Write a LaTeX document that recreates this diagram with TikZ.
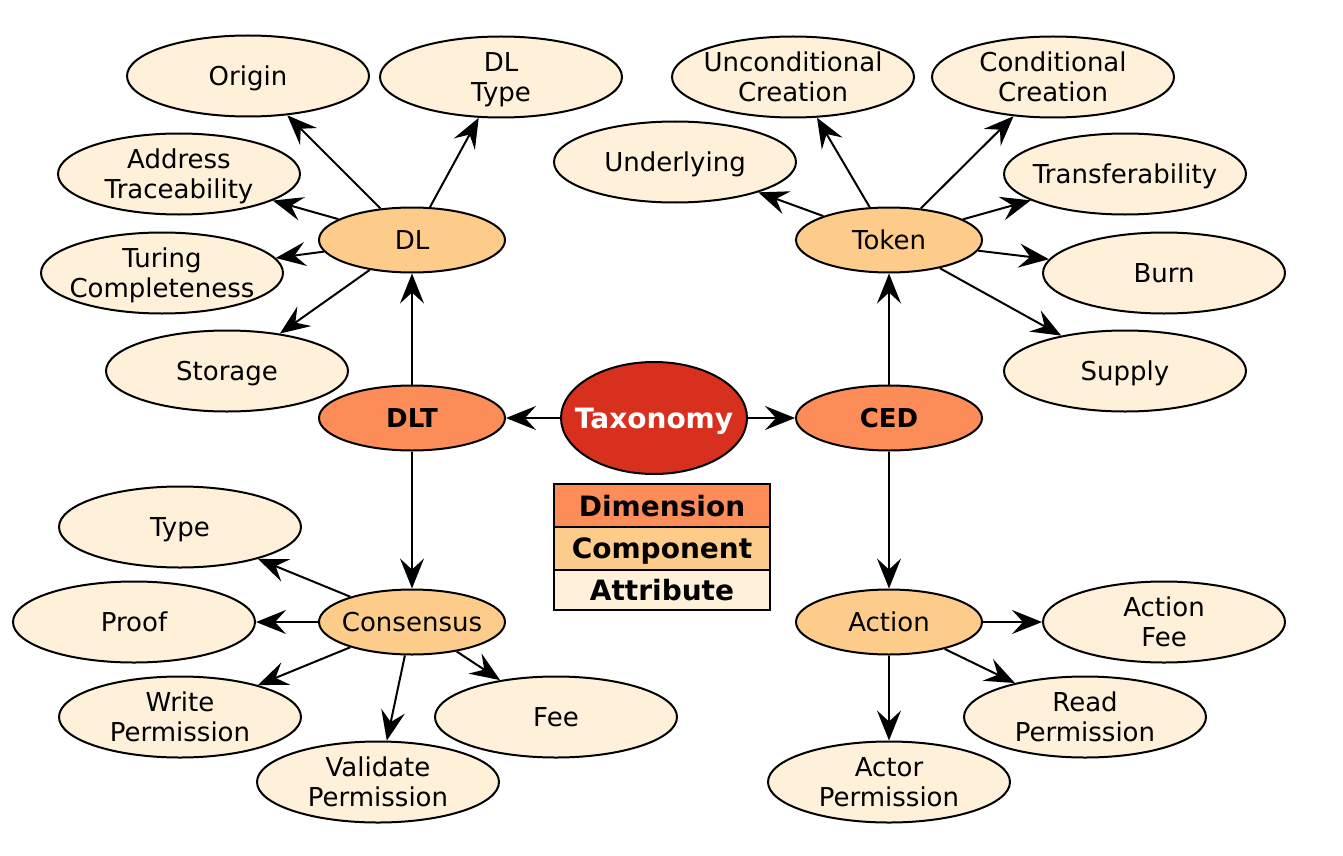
\documentclass[tikz,border=0pt]{standalone}
\usepackage{fontspec}
\setmainfont{DejaVu Sans}
\usetikzlibrary{shapes.geometric,arrows.meta}
\definecolor{rootc}{HTML}{D7301F}
\definecolor{dimc}{HTML}{FC8D59}
\definecolor{compc}{HTML}{FDCC8A}
\definecolor{attrc}{HTML}{FEF0D9}
\begin{document}
\begin{tikzpicture}[x=1pt,y=-1pt,
  base/.style={ellipse, draw=black, line width=2pt, inner ysep=0pt, inner xsep=-45pt, text depth=0pt, align=center, font=\fontsize{26}{30}\selectfont},
  attr/.style={base, fill=attrc, minimum width=242pt, minimum height=81pt},
  comp/.style={base, fill=compc, minimum width=186pt, minimum height=65pt},
  dimn/.style={base, fill=dimc, minimum width=186pt, minimum height=65pt, font=\fontsize{26}{30}\selectfont\bfseries},
  root/.style={base, fill=rootc, minimum width=186pt, minimum height=112pt, text=white, font=\fontsize{28}{32}\selectfont\bfseries},
  edge/.style={line width=2pt, -{Stealth[length=30pt,width=24pt,inset=11pt]}},
  legend/.style={rectangle, draw=black, line width=2pt, minimum width=216pt, inner sep=0pt, text depth=0pt, font=\fontsize{28}{32}\selectfont\bfseries}
]
\useasboundingbox (0,0) rectangle (1343,856);
% main
\node[root] (tax) at (654,418) {Taxonomy};
\node[dimn] (dlt) at (412,418) {DLT};
\node[dimn] (ced) at (889,418) {CED};
\node[comp] (dl) at (412,240) {DL};
\node[comp] (token) at (889,240) {Token};
\node[comp] (cons) at (412,622) {Consensus};
\node[comp] (action) at (889,622) {Action};
% attributes
\node[attr] (origin) at (248,76) {Origin};
\node[attr] (dltype) at (501,77) {DL\\Type};
\node[attr] (addr) at (179,174) {Address\\Traceability};
\node[attr] (turing) at (162,273) {Turing\\Completeness};
\node[attr] (storage) at (227,371) {Storage};
\node[attr] (uncond) at (793,77) {Unconditional\\Creation};
\node[attr] (cond) at (1053,77) {Conditional\\Creation};
\node[attr] (under) at (675,162) {Underlying};
\node[attr] (transf) at (1125,174) {Transferability};
\node[attr] (burn) at (1164,273) {Burn};
\node[attr] (supply) at (1125,371) {Supply};
\node[attr] (type) at (180,527) {Type};
\node[attr] (proof) at (134,622) {Proof};
\node[attr] (write) at (180,717) {Write\\Permission};
\node[attr] (valid) at (378,782) {Validate\\Permission};
\node[attr] (fee) at (556,717) {Fee};
\node[attr] (afee) at (1164,622) {Action\\Fee};
\node[attr] (read) at (1085,717) {Read\\Permission};
\node[attr] (actor) at (889,782) {Actor\\Permission};
% legend
\node[legend, fill=dimc, minimum height=43pt] (lg1) at (662,505.5) {Dimension};
\node[legend, fill=compc, minimum height=43pt] (lg2) at (662,548.5) {Component};
\node[legend, fill=attrc, minimum height=40pt] (lg3) at (662,590) {Attribute};
% edges
\draw[edge] (tax) -- (dlt);
\draw[edge] (tax) -- (ced);
\draw[edge] (dlt) -- (dl);
\draw[edge] (dlt) -- (cons);
\draw[edge] (ced) -- (token);
\draw[edge] (ced) -- (action);
\foreach \t in {origin,dltype,addr,turing,storage} \draw[edge] (dl) -- (\t);
\foreach \t in {uncond,cond,under,transf,burn,supply} \draw[edge] (token) -- (\t);
\foreach \t in {type,proof,write,valid,fee} \draw[edge] (cons) -- (\t);
\foreach \t in {afee,read,actor} \draw[edge] (action) -- (\t);
\end{tikzpicture}
\end{document}
